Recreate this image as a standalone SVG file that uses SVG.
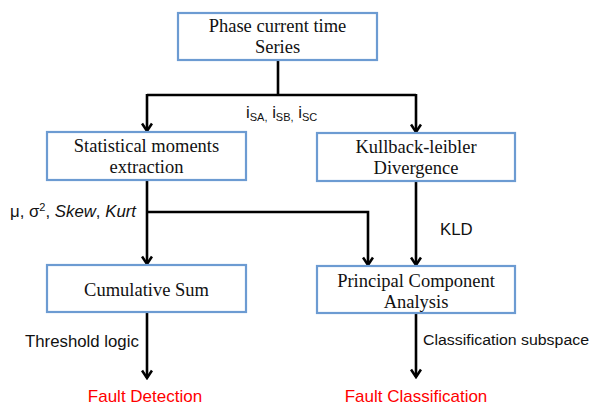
<svg xmlns="http://www.w3.org/2000/svg" width="595" height="408" viewBox="0 0 595 408">
<style>
.box{fill:#fff;stroke:#6c9bd2;stroke-width:2.2}
.t{font-family:"Liberation Serif","Times New Roman",serif;font-size:18.5px;fill:#111;text-anchor:middle}
.l{font-family:"Liberation Sans",Arial,sans-serif;font-size:16.8px;fill:#111}
.r{font-family:"Liberation Sans",Arial,sans-serif;font-size:17px;fill:#ff0000;text-anchor:middle}
.c{fill:none;stroke:#000;stroke-width:2.6}
</style>
<defs>
<marker id="ah" viewBox="0 0 12 12" refX="10.5" refY="6" markerWidth="12" markerHeight="12" markerUnits="userSpaceOnUse" orient="auto">
<path d="M3,1 L10.5,6 L3,11" fill="none" stroke="#000" stroke-width="2.6"/>
</marker>
</defs>
<rect width="595" height="408" fill="#fff"/>
<g id="connectors">
<polyline class="c" points="278,60 278,95"/>
<polyline class="c" points="147,95 416,95"/>
<line class="c" x1="147" y1="94" x2="147" y2="131" marker-end="url(#ah)"/>
<line class="c" x1="416" y1="94" x2="416" y2="132" marker-end="url(#ah)"/>
<line class="c" x1="147" y1="180" x2="147" y2="264" marker-end="url(#ah)"/>
<polyline class="c" points="147,212 368,212 368,265" marker-end="url(#ah)"/>
<line class="c" x1="416" y1="181" x2="416" y2="265" marker-end="url(#ah)"/>
<line class="c" x1="147" y1="312" x2="147" y2="378" marker-end="url(#ah)"/>
<line class="c" x1="416" y1="313" x2="416" y2="377" marker-end="url(#ah)"/>
</g>
<g id="n-phase">
<rect class="box" x="178" y="13" width="199" height="47"/>
<text class="t" x="277.5" y="32">Phase current time</text>
<text class="t" x="277.5" y="53">Series</text>
</g>
<g id="n-stats">
<rect class="box" x="47" y="132" width="199" height="48"/>
<text class="t" x="146.5" y="152">Statistical moments</text>
<text class="t" x="146.5" y="173">extraction</text>
</g>
<g id="n-kld">
<rect class="box" x="317" y="133" width="198" height="48"/>
<text class="t" x="416" y="153">Kullback-leibler</text>
<text class="t" x="416" y="174">Divergence</text>
</g>
<g id="n-cusum">
<rect class="box" x="47" y="265" width="199" height="47"/>
<text class="t" x="146.5" y="296">Cumulative Sum</text>
</g>
<g id="n-pca">
<rect class="box" x="317" y="266" width="198" height="47"/>
<text class="t" x="416" y="287">Principal Component</text>
<text class="t" x="416" y="308">Analysis</text>
</g>
<g id="labels">
<text class="l" x="246" y="118">i<tspan font-size="11px" dy="3">SA,</tspan><tspan dy="-3"> i</tspan><tspan font-size="11px" dy="3">SB,</tspan><tspan dy="-3"> i</tspan><tspan font-size="11px" dy="3">SC</tspan></text>
<text class="l" x="10" y="217">μ, σ<tspan font-size="11px" dy="-6">2</tspan><tspan dy="6">, </tspan><tspan font-style="italic">Skew</tspan>, <tspan font-style="italic">Kurt</tspan></text>
<text class="l" x="440" y="235">KLD</text>
<text class="l" x="25" y="347">Threshold logic</text>
<text class="l" x="423" y="345" style="font-size:15.5px" textLength="166" lengthAdjust="spacingAndGlyphs">Classification subspace</text>
<text class="r" x="145" y="402">Fault Detection</text>
<text class="r" x="416" y="402">Fault Classification</text>
</g>
</svg>
